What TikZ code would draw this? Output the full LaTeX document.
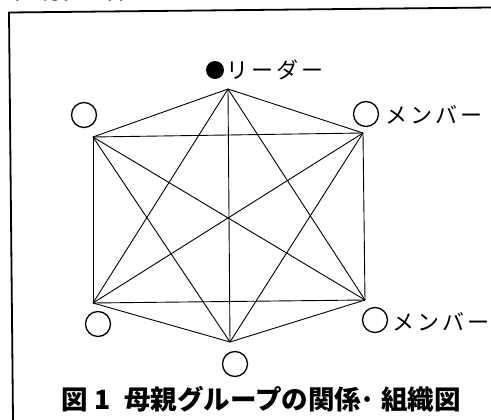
\documentclass[tikz,border=0pt]{standalone}
\usepackage{fontspec}
\newfontfamily\jp{Noto Sans CJK JP}
\newfontfamily\jpwide[LetterSpace=14]{Noto Sans CJK JP}
\begin{document}
\begin{tikzpicture}[x=1pt,y=-1pt,
  linkline/.style={line width=0.9pt,line join=round},
  memdot/.style={circle,draw,line width=1.3pt,minimum size=25pt,inner sep=0pt},
  leaddot/.style={circle,fill=black,minimum size=18pt,inner sep=0pt},
  labtext/.style={anchor=west,inner sep=0pt,font=\jpwide\fontsize{22}{22}\selectfont},
  captext/.style={inner sep=0pt,font=\jp\bfseries\fontsize{26.5}{26.5}\selectfont},
  frameline/.style={line width=1.8pt}]
\useasboundingbox (0,0) rectangle (491,420);
\fill[white] (0,0) rectangle (491,420);
% cut-off text from the page above
\begin{scope}
\clip (0,0) rectangle (491,420);
\node[anchor=base west,inner sep=0pt,font=\jp\fontsize{21}{21}\selectfont] (toptext) at (0,-0.5) {当て分担し合};
\end{scope}
% frame
\coordinate (f1) at (9,12.5);
\coordinate (f2) at (491,7.5);
\coordinate (f3) at (13,420);
\draw[frameline] (f2) -- (f1) -- (f3);
% vertices
\coordinate (T)  at (228,89);
\coordinate (UR) at (363,133);
\coordinate (LR) at (365,300);
\coordinate (B)  at (230,342);
\coordinate (LL) at (93,303);
\coordinate (UL) at (93,137);
% complete graph
\foreach \a/\b in {T/UR,UR/LR,LR/B,B/LL,LL/UL,UL/T,
                   T/LR,UR/B,LR/LL,B/UL,LL/T,UL/UR,
                   T/B,UR/LL,LR/UL}
  \draw[linkline] (\a) -- (\b);
% person markers
\node[leaddot] (cT)  at (215,70) {};
\node[memdot]  (cUR) at (366,114) {};
\node[memdot]  (cLR) at (375,320) {};
\node[memdot]  (cB)  at (235,364) {};
\node[memdot]  (cLL) at (98,324) {};
\node[memdot]  (cUL) at (84,115) {};
% labels
\node[labtext] (lT)  at (226,70)  {リーダー};
\node[labtext] (lUR) at (385,115) {メンバー};
\node[labtext] (lLR) at (392,322) {メンバー};
% caption
\node[captext,anchor=base west] (c1) at (61,409) {図};
\node[captext,anchor=base] (c2) at (103,409) {1};
\node[captext,anchor=base west] (c3) at (124,409) {母親グループの関係};
\node[captext,anchor=base] (c4) at (367.5,409) {·};
\node[captext,anchor=base east] (c5) at (461,409) {組織図};
\end{tikzpicture}
\end{document}
